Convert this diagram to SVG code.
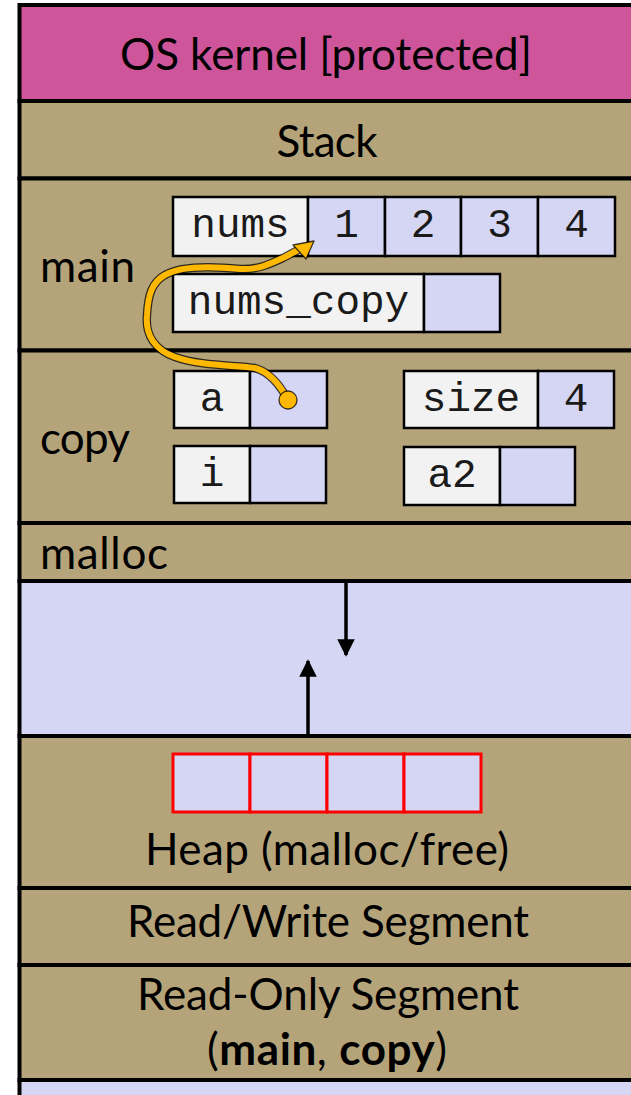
<svg xmlns="http://www.w3.org/2000/svg" width="631" height="1095" viewBox="0 0 631 1095">
<style>
.sec{stroke:#000;stroke-width:4}
.kern{fill:#CF559B}
.tan{fill:#B5A47A}
.lav{fill:#D5D6F3}
.lbl{font-family:Lato,"Liberation Sans",sans-serif;font-size:44px;fill:#000}
.mid{text-anchor:middle}
.box{fill:#F2F2F2;stroke:#000;stroke-width:2.5}
.cell{fill:#D5D6F3;stroke:#000;stroke-width:2.5}
.red{fill:#D5D6F3;stroke:#FF0000;stroke-width:3}
.mono{font-family:"Liberation Mono","Courier New",monospace;font-size:41px;fill:#1a1a1a;text-anchor:middle}
.arr{stroke:#000;stroke-width:3.5;fill:none}
</style>
<defs>
<marker id="head" markerWidth="5" markerHeight="5" refX="4.5" refY="2.5" orient="auto" markerUnits="strokeWidth">
<path d="M0,0 L5,2.5 L0,5 Z" fill="#000"/>
</marker>
</defs>
<rect width="631" height="1095" fill="#fff"/>
<g id="kernel">
<rect class="sec kern" x="19.5" y="5" width="700" height="96"/>
<text class="lbl mid" x="326" y="70" textLength="412">OS kernel [protected]</text>
</g>
<g id="stack">
<rect class="sec tan" x="19.5" y="101" width="700" height="77.5"/>
<text class="lbl mid" x="327" y="157" textLength="101">Stack</text>
</g>
<g id="main">
<rect class="sec tan" x="19.5" y="178.5" width="700" height="172"/>
<text class="lbl" x="40" y="282" textLength="95">main</text>
<rect class="box" x="173" y="197" width="135" height="59"/>
<text class="mono" x="240.5" y="237">nums</text>
<rect class="cell" x="308" y="197" width="77" height="59"/>
<rect class="cell" x="385" y="197" width="76" height="59"/>
<rect class="cell" x="461" y="197" width="77" height="59"/>
<rect class="cell" x="538" y="197" width="77" height="59"/>
<text class="mono" x="346.5" y="237">1</text>
<text class="mono" x="423" y="237">2</text>
<text class="mono" x="499.5" y="237">3</text>
<text class="mono" x="576.5" y="237">4</text>
<rect class="box" x="173" y="274" width="251" height="58"/>
<text class="mono" x="298.5" y="314">nums_copy</text>
<rect class="cell" x="424" y="274" width="76" height="58"/>
</g>
<g id="copy">
<rect class="sec tan" x="19.5" y="350.5" width="700" height="172.5"/>
<text class="lbl" x="40" y="454" textLength="90">copy</text>
<rect class="box" x="174" y="371" width="76" height="57"/>
<text class="mono" x="212" y="411">a</text>
<rect class="cell" x="250" y="371" width="77" height="57"/>
<rect class="box" x="404" y="371" width="134" height="57"/>
<text class="mono" x="471" y="411">size</text>
<rect class="cell" x="538" y="371" width="76" height="57"/>
<text class="mono" x="576" y="411">4</text>
<rect class="box" x="174" y="446" width="76" height="57"/>
<text class="mono" x="212" y="486">i</text>
<rect class="cell" x="250" y="446" width="76" height="57"/>
<rect class="box" x="404" y="447" width="96" height="58"/>
<text class="mono" x="452" y="487">a2</text>
<rect class="cell" x="500" y="447" width="75" height="58"/>
</g>
<g id="malloc">
<rect class="sec tan" x="19.5" y="523" width="700" height="58"/>
<text class="lbl" x="40" y="569" textLength="128">malloc</text>
</g>
<g id="free-space">
<rect class="sec lav" x="19.5" y="581" width="700" height="155"/>
</g>
<g id="heap">
<rect class="sec tan" x="19.5" y="736" width="700" height="152"/>
<rect class="red" x="173" y="754" width="77" height="58"/>
<rect class="red" x="250" y="754" width="77" height="58"/>
<rect class="red" x="327" y="754" width="77" height="58"/>
<rect class="red" x="404" y="754" width="77" height="58"/>
<text class="lbl mid" x="327" y="865" textLength="364">Heap (malloc/free)</text>
</g>
<g id="rw">
<rect class="sec tan" x="19.5" y="888" width="700" height="77"/>
<text class="lbl mid" x="328" y="937" textLength="402">Read/Write Segment</text>
</g>
<g id="ro">
<rect class="sec tan" x="19.5" y="965" width="700" height="115"/>
<text class="lbl mid" x="328" y="1010" textLength="382">Read-Only Segment</text>
<text class="lbl mid" x="327" y="1065" textLength="240">(<tspan font-weight="bold">main</tspan>, <tspan font-weight="bold">copy</tspan>)</text>
</g>
<g id="bottom">
<rect class="sec lav" x="19.5" y="1080" width="700" height="40"/>
</g>
<g id="connectors">
<line class="arr" x1="346" y1="582" x2="346" y2="655" marker-end="url(#head)"/>
<line class="arr" x1="308" y1="736" x2="308" y2="661" marker-end="url(#head)"/>
<path d="M288,400 C280,385 270,372 255,368 C235,365 200,366 175,357 C155,350 145,335 147,315 C148,295 152,282 165,275 C180,266 210,266 240,269 C258,270 270,264 285,257 L298,250" fill="none" stroke="#000" stroke-opacity="0.75" stroke-width="8.5" stroke-linecap="round"/>
<path d="M288,400 C280,385 270,372 255,368 C235,365 200,366 175,357 C155,350 145,335 147,315 C148,295 152,282 165,275 C180,266 210,266 240,269 C258,270 270,264 285,257 L298,250" fill="none" stroke="#FFB800" stroke-width="6" stroke-linecap="round"/>
<polygon points="314,241 293,245 306,259" fill="#FFB800" stroke="#000" stroke-opacity="0.75" stroke-width="1.3" stroke-linejoin="round"/>
<circle cx="288" cy="400" r="9" fill="#FFB800" stroke="#000" stroke-opacity="0.75" stroke-width="1.3"/>
</g>
</svg>
